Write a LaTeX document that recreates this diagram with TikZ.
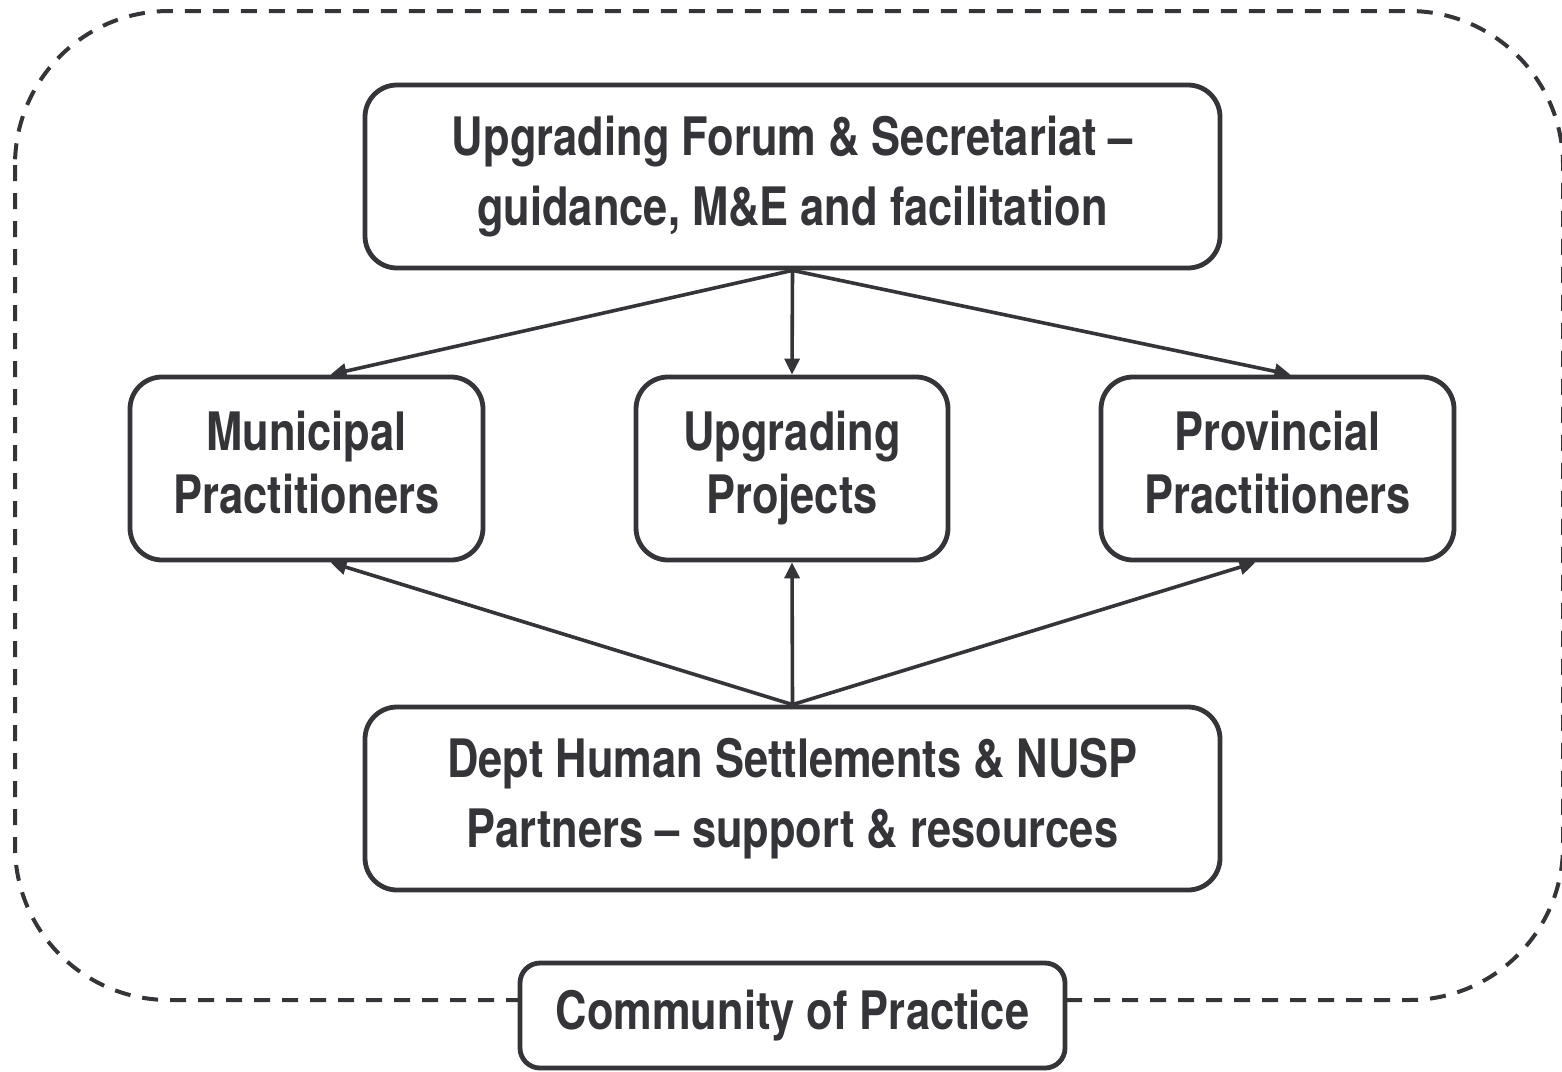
\documentclass[tikz,border=0pt]{standalone}
\usepackage{fontspec}
\setmainfont{TeX Gyre Heros}[FakeStretch=0.82]
\usetikzlibrary{arrows.meta,calc}
\definecolor{ink}{RGB}{52,52,57}
\begin{document}
\begin{tikzpicture}[x=0.5pt,y=-0.5pt,
  box/.style={draw=ink,line width=2.4pt,rounded corners=16pt,fill=white,
    text=ink,font=\fontsize{26.5}{35}\selectfont\bfseries,align=center,
    minimum height=91.5pt,inner sep=0pt},
  tight/.style={font=\fontsize{26.5}{31.5}\selectfont\bfseries},
  link/.style={draw=ink,line width=1.8pt,-{Triangle[length=8pt,width=7.5pt]}},
  frame/.style={draw=ink,line width=2pt,dash pattern=on 8pt off 6pt,rounded corners=77pt}]
\useasboundingbox (0,0) rectangle (1562,1071);
% outer community boundary
\draw[frame] (15,11) rectangle (1563,1000);
% nodes
\node[box,minimum width=427.5pt] (forum) at (792.5,176.5) {Upgrading Forum \& Secretariat –\\guidance, M\&E and facilitation};
\node[box,tight,minimum width=176.5pt] (mun) at (306.5,468.5) {Municipal\\Practitioners\vphantom{j}};
\node[box,tight,minimum width=156pt] (proj) at (792,468.5) {Upgrading\\Projects};
\node[box,tight,minimum width=176.5pt] (prov) at (1277.5,468.5) {Provincial\\Practitioners\vphantom{j}};
\node[box,minimum width=427.5pt] (dept) at (792.5,798.5) {Dept Human Settlements \& NUSP\\Partners – support \& resources};
\node[box,minimum width=272.5pt,minimum height=52.5pt,rounded corners=10pt] (cop) at (792.5,1015.5) {Community of Practice};
% guidance flows downward
\draw[link] (forum.south) -- ($(mun.north)+(24,0)$);
\draw[link] (forum.south) -- (proj.north);
\draw[link] (forum.south) -- ($(prov.north)+(13,0)$);
% support flows upward
\draw[link] (dept.north) -- ($(mun.south)+(24,0)$);
\draw[link] (dept.north) -- (proj.south);
\draw[link] (dept.north) -- ($(prov.south)+(-22,0)$);
\end{tikzpicture}
\end{document}
